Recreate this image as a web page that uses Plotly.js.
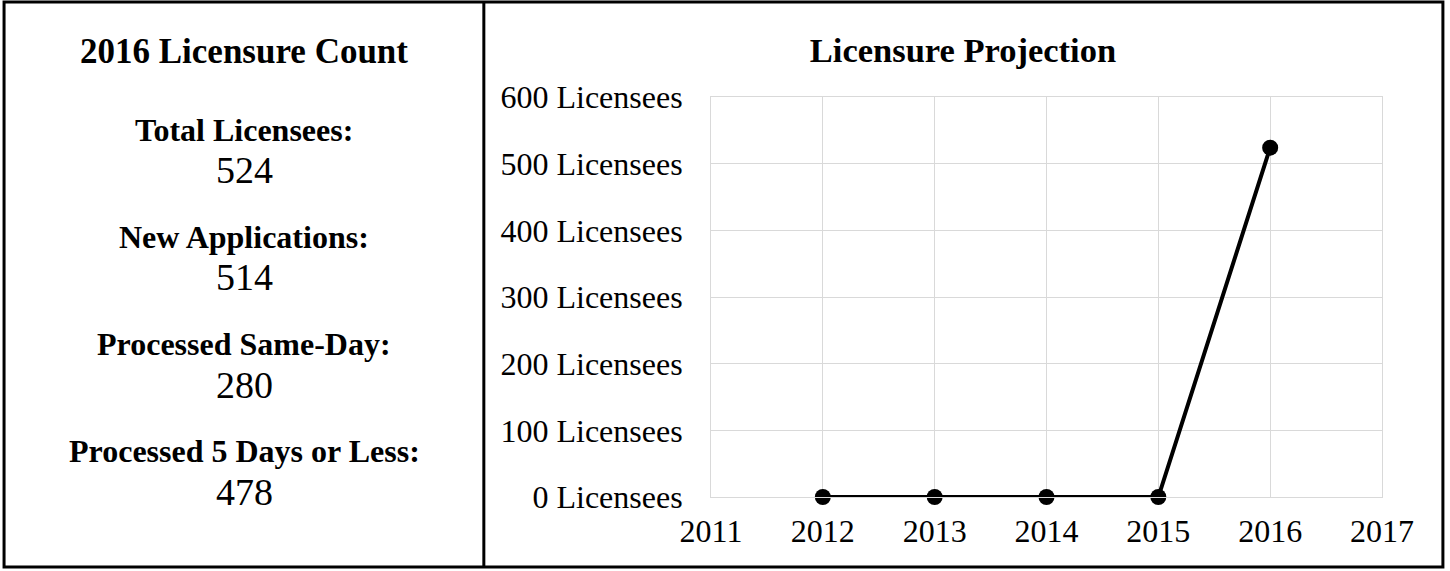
<!DOCTYPE html>
<html>
<head>
<meta charset="utf-8">
<script src="https://cdn.plot.ly/plotly-3.0.1.min.js"></script>
<style>
html,body{margin:0;padding:0;background:#fff;}
#chart{width:1450px;height:571px;}
</style>
</head>
<body>
<div id="chart"></div>
<script>
// Data
const years = [2012, 2013, 2014, 2015, 2016];
const licensees = [0, 0, 0, 0, 524];
const statLabels = ["Total Licensees:", "New Applications:", "Processed Same-Day:", "Processed 5 Days or Less:"];
const statValues = [524, 514, 280, 478];
const panelTitle = "2016 Licensure Count";
const chartTitle = "Licensure Projection";

const W = 1450, H = 571;
const L = 710.5, R = 1382.5, T = 97.3, B = 496.7;
const px2x = px => (px - L) / (R - L);
const py2y = py => (B - py) / (B - T);

const FONT = "'Liberation Serif', 'Times New Roman', serif";

const annotations = [];
annotations.push({
  xref: 'paper', yref: 'paper', x: px2x(243), y: py2y(52),
  xanchor: 'center', yanchor: 'middle', showarrow: false,
  text: '<b>' + panelTitle + '</b>',
  font: {family: FONT, size: 35, color: '#000'}
});
const labelY = [130, 237, 344, 451];
const valueY = [170.5, 277.5, 384.5, 491.5];
statLabels.forEach((lab, i) => {
  annotations.push({
    xref: 'paper', yref: 'paper', x: px2x(243), y: py2y(labelY[i]),
    xanchor: 'center', yanchor: 'middle', showarrow: false,
    text: '<b>' + lab + '</b>',
    font: {family: FONT, size: 32, color: '#000'}
  });
  annotations.push({
    xref: 'paper', yref: 'paper', x: px2x(243), y: py2y(valueY[i]),
    xanchor: 'center', yanchor: 'middle', showarrow: false,
    text: String(statValues[i]),
    font: {family: FONT, size: 38, color: '#000'}
  });
});

const shapes = [
  {type: 'rect', xref: 'paper', yref: 'paper', x0: px2x(2.5), x1: px2x(1443.5), y0: py2y(566.5), y1: py2y(2.5),
   line: {color: '#000', width: 3}, fillcolor: 'rgba(0,0,0,0)', layer: 'above'},
  {type: 'line', xref: 'paper', yref: 'paper', x0: px2x(483), x1: px2x(483), y0: py2y(566.5), y1: py2y(2.5),
   line: {color: '#000', width: 3}, layer: 'above'}
];

const trace = {
  x: years, y: licensees, type: 'scatter', mode: 'lines+markers',
  line: {color: '#000', width: 4},
  marker: {color: '#000', size: 16, symbol: 'circle'},
  cliponaxis: false, hoverinfo: 'skip'
};

const layout = {
  width: W, height: H,
  margin: {l: L, r: W - R, t: T, b: H - B, pad: 0},
  paper_bgcolor: '#fff', plot_bgcolor: '#fff',
  showlegend: false,
  font: {family: FONT, color: '#000'},
  title: {
    text: '<b>' + chartTitle + '</b>',
    xref: 'container', yref: 'container', x: 963 / W, y: 1 - 50 / H,
    xanchor: 'center', yanchor: 'middle',
    font: {family: FONT, size: 34.5, color: '#000'}
  },
  xaxis: {
    range: [2011, 2017], dtick: 1, tick0: 2011, tickmode: 'linear',
    showgrid: true, gridcolor: '#d9d9d9', gridwidth: 1,
    showline: true, mirror: true, linecolor: '#d9d9d9', linewidth: 1,
    zeroline: false, ticks: 'outside', ticklen: 6, tickcolor: 'rgba(0,0,0,0)',
    tickfont: {family: FONT, size: 32, color: '#000'}, fixedrange: true
  },
  yaxis: {
    range: [0, 600], dtick: 100, tick0: 0, tickmode: 'linear',
    ticksuffix: ' Licensees',
    showgrid: true, gridcolor: '#d9d9d9', gridwidth: 1,
    showline: true, mirror: true, linecolor: '#d9d9d9', linewidth: 1,
    zeroline: false, ticks: 'outside', ticklen: 21, tickcolor: 'rgba(0,0,0,0)',
    tickfont: {family: FONT, size: 32, color: '#000'}, fixedrange: true
  },
  annotations: annotations,
  shapes: shapes
};

Plotly.newPlot('chart', [trace], layout, {displayModeBar: false, staticPlot: true});
</script>
</body>
</html>
